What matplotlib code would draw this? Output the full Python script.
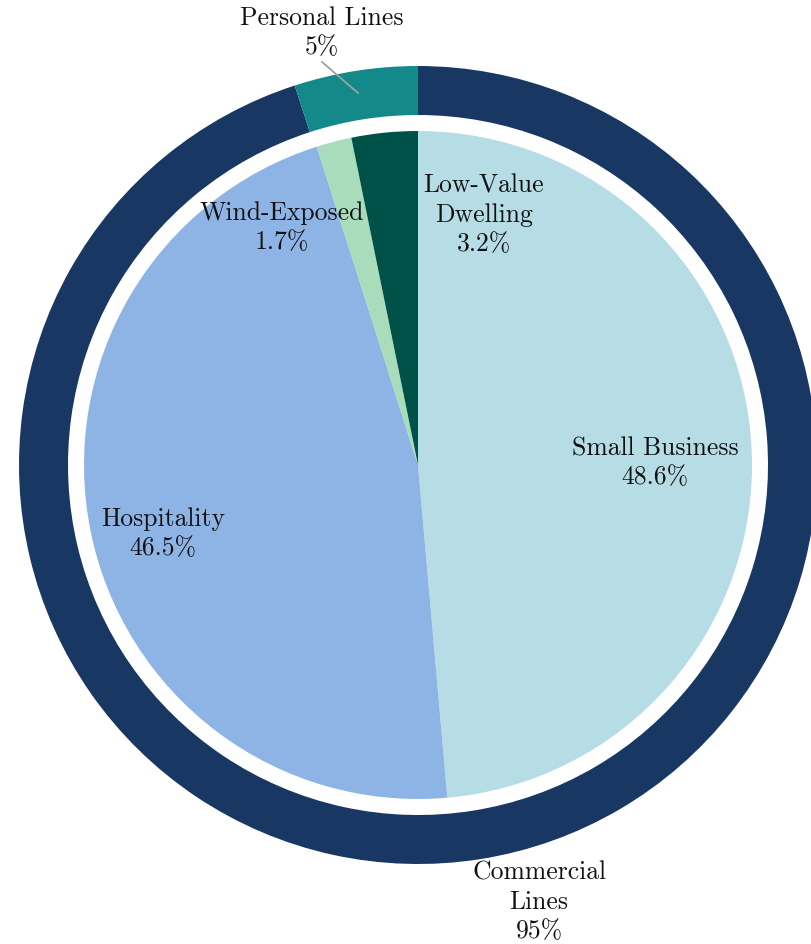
import matplotlib.pyplot as plt

FIG_FILE = 'out.png'

# outer ring
outer_labels = ['Commercial\nLines', 'Personal Lines']
outer_values = [95, 5]
outer_colors = ['#183763', '#13898a']

# inner pie
inner_labels = ['Small Business', 'Hospitality', 'Wind-Exposed', 'Low-Value\nDwelling']
inner_values = [48.6, 46.5, 1.7, 3.2]
inner_colors = ['#b6dce6', '#8eb4e6', '#a9dcbb', '#005249']

# label centres, in pixels from the top-left corner of the picture
outer_text_pos = [(539, 902), (322, 33)]
inner_text_pos = [(655, 463), (163, 534), (282, 228), (484, 215)]

CX, CY = 418, 466


def toData(p):
    return (p[0] - CX, CY - p[1])


def plotRings():
    fig = plt.figure(figsize=(8.11, 9.45), dpi=100)
    ax = fig.add_axes([0, 0, 1, 1])

    ax.pie(outer_values, colors=outer_colors, radius=399, startangle=90,
           counterclock=False, wedgeprops=dict(width=49, linewidth=0))
    ax.pie(inner_values, colors=inner_colors, radius=334, startangle=90,
           counterclock=False, wedgeprops=dict(linewidth=0))

    # pie() resets the limits, so set them afterwards
    ax.set_aspect('auto')
    ax.set_xlim(-CX, 811 - CX)
    ax.set_ylim(-(945 - CY), CY)
    ax.axis('off')

    font = dict(family=['cmr10', 'DejaVu Serif'], size=18.5, color='#111111',
                ha='center', va='center', linespacing=1.3)

    for lab, val, pos in zip(outer_labels, outer_values, outer_text_pos):
        ax.text(*toData(pos), lab + '\n' + str(val) + '%', **font)
    for lab, val, pos in zip(inner_labels, inner_values, inner_text_pos):
        ax.text(*toData(pos), lab + '\n' + str(val) + '%', **font)

    # leader line for Personal Lines
    ax.plot([322 - CX, 358 - CX], [CY - 63, CY - 94], color='#a0a0a0', lw=1.3)

    plt.savefig(FIG_FILE)


plotRings()
